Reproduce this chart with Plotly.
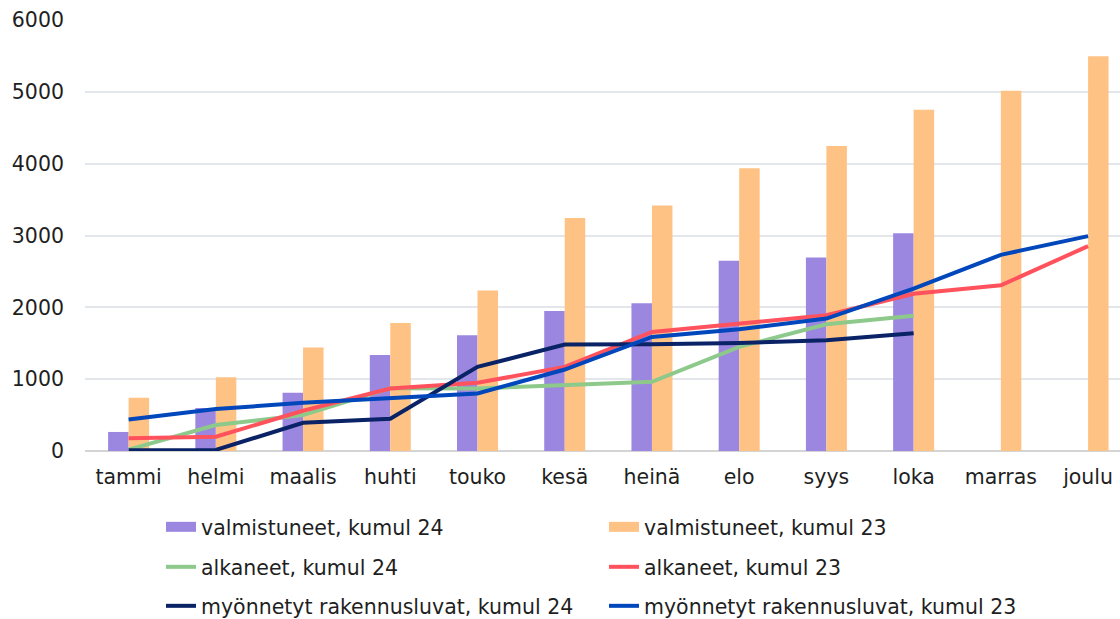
import plotly.graph_objects as go

months = ["tammi", "helmi", "maalis", "huhti", "touko", "kesä", "heinä", "elo", "syys", "loka", "marras", "joulu"]

valmistuneet_24 = [265, 600, 810, 1338, 1611, 1949, 2056, 2648, 2694, 3032, None, None]
valmistuneet_23 = [741, 1028, 1440, 1782, 2236, 3245, 3417, 3935, 4245, 4750, 5014, 5495]
alkaneet_24 = [20, 361, 500, 875, 870, 917, 963, 1449, 1764, 1884, None, None]
alkaneet_23 = [176, 199, 560, 870, 950, 1171, 1657, 1773, 1889, 2190, 2306, 2852]
myonnetyt_24 = [10, 15, 393, 449, 1171, 1481, 1486, 1505, 1542, 1639, None, None]
myonnetyt_23 = [440, 585, 671, 741, 801, 1134, 1588, 1694, 1843, 2259, 2731, 2991]

y_ticks = [0, 1000, 2000, 3000, 4000, 5000, 6000]

FONT = "DejaVu Sans"
FS = 20.5
TXT = "#1f1f1f"
PURPLE = "#9b86e0"
ORANGE = "#ffc285"

fig = go.Figure()
fig.add_trace(go.Bar(x=months, y=valmistuneet_24, name="valmistuneet, kumul 24",
                     marker=dict(color=PURPLE, line=dict(width=0)),
                     legendgroup="v24", showlegend=False))
fig.add_trace(go.Bar(x=months, y=valmistuneet_23, name="valmistuneet, kumul 23",
                     marker=dict(color=ORANGE, line=dict(width=0)),
                     legendgroup="v23", showlegend=False))
# legend entries for the bar series (wide rectangle swatches)
fig.add_trace(go.Scatter(x=[None], y=[None], name="valmistuneet, kumul 24", mode="lines",
                         line=dict(color=PURPLE, width=10), legendgroup="v24", legend="legend",
                         hoverinfo="skip"))
fig.add_trace(go.Scatter(x=[None], y=[None], name="valmistuneet, kumul 23", mode="lines",
                         line=dict(color=ORANGE, width=10), legendgroup="v23", legend="legend",
                         hoverinfo="skip"))
fig.add_trace(go.Scatter(x=months, y=alkaneet_24, name="alkaneet, kumul 24", mode="lines",
                         line=dict(color="#8dc98a", width=4), legend="legend2"))
fig.add_trace(go.Scatter(x=months, y=alkaneet_23, name="alkaneet, kumul 23", mode="lines",
                         line=dict(color="#ff525c", width=4), legend="legend2"))
fig.add_trace(go.Scatter(x=months, y=myonnetyt_24, name="myönnetyt rakennusluvat, kumul 24", mode="lines",
                         line=dict(color="#0a2366", width=4), legend="legend3"))
fig.add_trace(go.Scatter(x=months, y=myonnetyt_23, name="myönnetyt rakennusluvat, kumul 23", mode="lines",
                         line=dict(color="#0047bb", width=4), legend="legend3"))

def leg(yc):
    return dict(orientation="h", xref="container", yref="container",
                x=161 / 1120, xanchor="left", y=1 - yc / 619, yanchor="middle",
                entrywidth=398, entrywidthmode="pixels",
                font=dict(family=FONT, size=FS, color=TXT),
                bgcolor="rgba(0,0,0,0)", itemwidth=30, traceorder="normal")

fig.update_layout(
    width=1120, height=619,
    margin=dict(l=85, r=0, t=20, b=168),
    paper_bgcolor="white", plot_bgcolor="white",
    barmode="group", bargap=0.53, bargroupgap=0,
    font=dict(family=FONT, size=FS, color=TXT),
    showlegend=True,
    legend=leg(527), legend2=leg(567), legend3=leg(606),
)
fig.update_xaxes(range=[-0.5, 11.366], showgrid=False, showline=False,
                 ticks="", ticklabelstandoff=11,
                 tickfont=dict(family=FONT, size=FS, color=TXT))
fig.update_yaxes(range=[0, 6000], tickvals=y_ticks, showgrid=True, gridcolor="#e3e6ea", gridwidth=1.5,
                 zeroline=True, zerolinecolor="#d4d4d4", zerolinewidth=2,
                 ticks="", ticklabelstandoff=20,
                 tickfont=dict(family=FONT, size=FS, color=TXT))

fig.write_html("out.html", config={"displayModeBar": False},
               post_script="document.body.style.margin='0';document.body.style.overflow='hidden';")
